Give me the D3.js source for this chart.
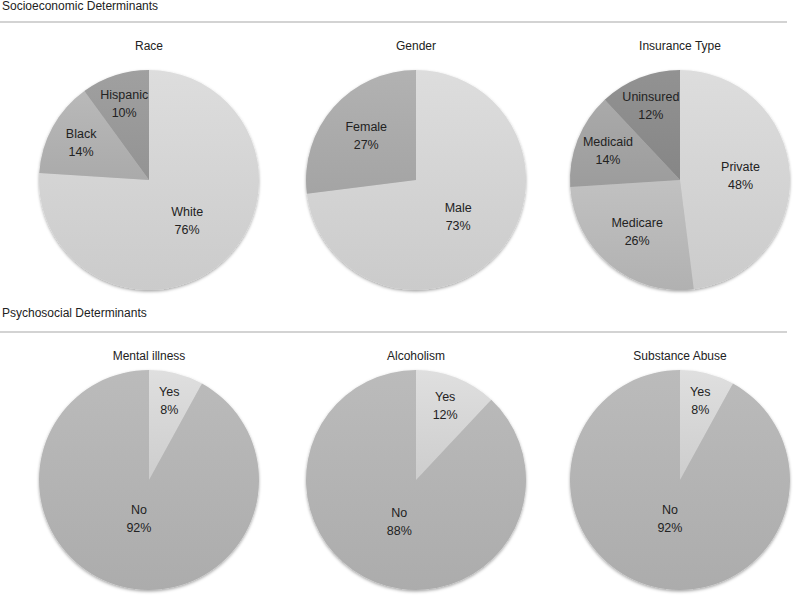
<!DOCTYPE html>
<html>
<head>
<meta charset="utf-8">
<script src="https://cdn.jsdelivr.net/npm/d3@7/dist/d3.min.js"></script>
<style>
  html, body { margin: 0; padding: 0; background: #fff; }
  text { font-family: "Liberation Sans", Arial, Helvetica, sans-serif; fill: #222; }
</style>
</head>
<body>
<svg id="chart" width="796" height="598"></svg>
<script>
// ---- data ----
const sectionTitles = ["Socioeconomic Determinants", "Psychosocial Determinants"];
const chartTitles = ["Race", "Gender", "Insurance Type", "Mental illness", "Alcoholism", "Substance Abuse"];

const raceLabels = ["White", "Black", "Hispanic"];
const raceValues = [76, 14, 10];
const raceColors = ["#d4d4d4", "#b1b1b1", "#999999"];

const genderLabels = ["Male", "Female"];
const genderValues = [73, 27];
const genderColors = ["#d4d4d4", "#ababab"];

const insuranceLabels = ["Private", "Medicare", "Medicaid", "Uninsured"];
const insuranceValues = [48, 26, 14, 12];
const insuranceColors = ["#d4d4d4", "#b9b9b9", "#a3a3a3", "#8c8c8c"];

const yesNoLabels = ["Yes", "No"];
const mentalValues = [8, 92];
const alcoholValues = [12, 88];
const substanceValues = [8, 92];
const yesNoColors = ["#d6d6d6", "#b3b3b3"];

const charts = [
  { title: chartTitles[0], labels: raceLabels, values: raceValues, colors: raceColors },
  { title: chartTitles[1], labels: genderLabels, values: genderValues, colors: genderColors },
  { title: chartTitles[2], labels: insuranceLabels, values: insuranceValues, colors: insuranceColors },
  { title: chartTitles[3], labels: yesNoLabels, values: mentalValues, colors: yesNoColors },
  { title: chartTitles[4], labels: yesNoLabels, values: alcoholValues, colors: yesNoColors },
  { title: chartTitles[5], labels: yesNoLabels, values: substanceValues, colors: yesNoColors }
];

// ---- layout ----
const svg = d3.select("#chart");
const colX = [149, 416, 680];
const rowY = [180, 480];
const titleGap = [20, 10];
const R = 110;

const defs = svg.append("defs");
const filt = defs.append("filter").attr("id", "shadow")
  .attr("x", "-10%").attr("y", "-10%").attr("width", "120%").attr("height", "125%");
filt.append("feDropShadow").attr("dx", 0).attr("dy", 1.5).attr("stdDeviation", 1.5)
  .attr("flood-color", "#000").attr("flood-opacity", 0.35);

// gradients: one per distinct colour
const uniqueColors = Array.from(new Set(charts.flatMap(c => c.colors)));
uniqueColors.forEach((c, i) => {
  const g = defs.append("linearGradient").attr("id", "grad" + i)
    .attr("x1", 0).attr("y1", 0).attr("x2", 0).attr("y2", 1);
  g.append("stop").attr("offset", "0%").attr("stop-color", d3.color(c).brighter(0.12));
  g.append("stop").attr("offset", "100%").attr("stop-color", d3.color(c).darker(0.12));
});
const gradFor = c => "url(#grad" + uniqueColors.indexOf(c) + ")";

// section headers
const sectionY = [10, 317];
const ruleY = [22, 332];
sectionTitles.forEach((t, i) => {
  svg.append("text").attr("x", 2).attr("y", sectionY[i])
    .style("font-size", "12px").text(t);
  svg.append("line").attr("x1", 0).attr("x2", 787)
    .attr("y1", ruleY[i]).attr("y2", ruleY[i])
    .attr("stroke", "#a8a8a8").attr("stroke-width", 1.2);
});

const pie = d3.pie().sort(null).value(d => d);
const arc = d3.arc().innerRadius(0).outerRadius(R);
// label distance from centre shrinks as the slice grows
const labelFrac = d3.scaleLinear()
  .domain([0.08, 0.12, 0.3, 0.8, 0.92])
  .range([0.74, 0.72, 0.58, 0.5, 0.37]).clamp(true);

charts.forEach((c, i) => {
  const row = Math.floor(i / 3);
  const cx = colX[i % 3], cy = rowY[row];
  const g = svg.append("g").attr("transform", `translate(${cx},${cy})`);
  g.append("text").attr("x", 0).attr("y", -R - titleGap[row]).attr("text-anchor", "middle")
    .style("font-size", "12px").text(c.title);

  const total = d3.sum(c.values);
  const arcs = pie(c.values);
  const pg = g.append("g").attr("filter", "url(#shadow)");
  pg.selectAll("path").data(arcs).join("path")
    .attr("d", arc)
    .attr("fill", (d, j) => gradFor(c.colors[j]));

  arcs.forEach((d, j) => {
    const mid = (d.startAngle + d.endAngle) / 2;
    const r = R * labelFrac(d.value / total);
    const x = Math.sin(mid) * r, y = -Math.cos(mid) * r;
    const t = g.append("text").attr("text-anchor", "middle").style("font-size", "12.5px");
    t.append("tspan").attr("x", x).attr("y", y - 5).text(c.labels[j]);
    t.append("tspan").attr("x", x).attr("y", y + 13).text(d3.format(".0f")(d.value / total * 100) + "%");
  });
});
</script>
</body>
</html>
